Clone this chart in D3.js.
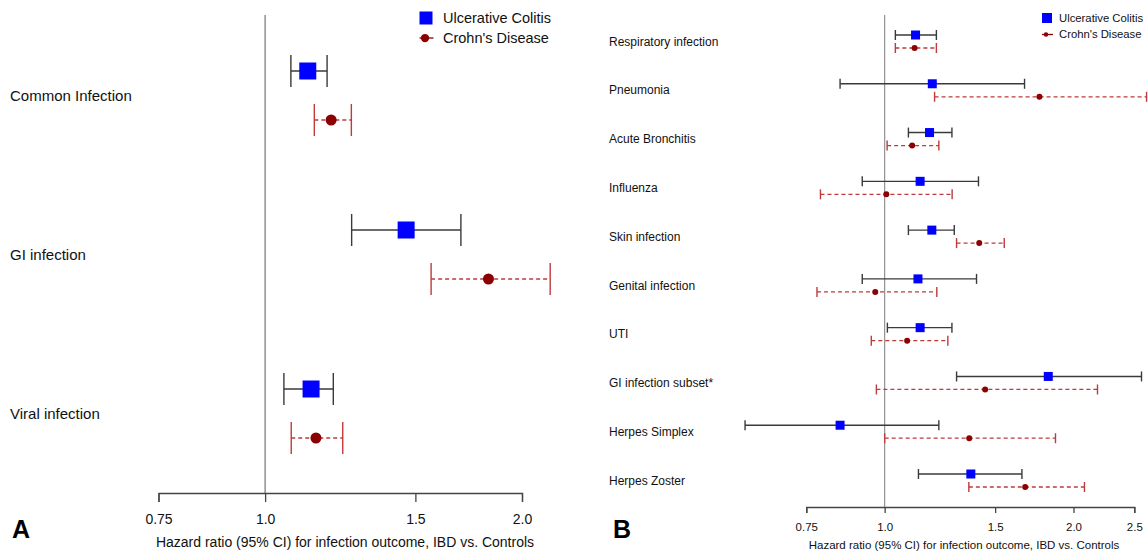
<!DOCTYPE html>
<html>
<head>
<meta charset="utf-8">
<script src="https://cdn.jsdelivr.net/npm/d3@7"></script>
<style>
  body { margin: 0; background: #fff; }
  svg { font-family: "Liberation Sans", Arial, sans-serif; }
  .axis path, .axis line { stroke: #444; stroke-width: 1.3; }
</style>
</head>
<body>
<svg id="chart" width="1148" height="553"></svg>
<script>
// Panel A data
var catsA = ["Common Infection", "GI infection", "Viral infection"];
var ucA = [1.122, 1.463, 1.132];
var ucLoA = [1.072, 1.263, 1.052];
var ucHiA = [1.182, 1.696, 1.202];
var cdA = [1.195, 1.827, 1.147];
var cdLoA = [1.142, 1.565, 1.073];
var cdHiA = [1.262, 2.158, 1.233];

// Panel B data
var catsB = ["Respiratory infection", "Pneumonia", "Acute Bronchitis", "Influenza", "Skin infection",
    "Genital infection", "UTI", "GI infection subset*", "Herpes Simplex", "Herpes Zoster"];
var ucB = [1.120, 1.191, 1.179, 1.139, 1.189, 1.130, 1.139, 1.823, 0.849, 1.372];
var ucLoB = [1.040, 0.849, 1.091, 0.921, 1.091, 0.921, 1.010, 1.302, 0.599, 1.132];
var ucHiB = [1.209, 1.671, 1.280, 1.411, 1.291, 1.401, 1.280, 2.567, 1.220, 1.655];
var cdB = [1.116, 1.765, 1.106, 1.006, 1.415, 0.966, 1.086, 1.446, 1.364, 1.675];
var cdLoB = [1.040, 1.201, 1.009, 0.790, 1.302, 0.780, 0.952, 0.970, 1.000, 1.362];
var cdHiB = [1.209, 2.615, 1.220, 1.281, 1.551, 1.211, 1.261, 2.184, 1.872, 2.082];

var ticksA = [0.75, 1.0, 1.5, 2.0];
var ticksB = [0.75, 1.0, 1.5, 2.0, 2.5];
var tickLabel = function(d) { return d === 0.75 ? "0.75" : d.toFixed(1); };

var svg = d3.select("#chart");

var lineCol = "#3a3a3a";
var cdCol = "#8b0000";
var cdBarCol = "#bf3a3a";

function drawPanel(opt) {
    var g = svg.append("g");

    var x = d3.scaleLog().domain(opt.domain).range(opt.xRange);
    var y = d3.scalePoint().domain(opt.cats).range(opt.yRange);

    // reference line at HR = 1
    g.append("line")
        .attr("x1", x(1)).attr("x2", x(1))
        .attr("y1", 15).attr("y2", opt.axisY)
        .attr("stroke", "#888").attr("stroke-width", opt.refW);

    // axis
    var axis = d3.axisBottom(x)
        .tickValues(opt.ticks)
        .tickFormat(tickLabel)
        .tickSizeOuter(0)
        .tickSize(opt.tickSize)
        .tickPadding(opt.tickPad);
    var ax = g.append("g")
        .attr("class", "axis")
        .attr("transform", "translate(0," + opt.axisY + ")")
        .call(axis);
    ax.selectAll("text").attr("fill", "#111").style("font-size", opt.tickFont + "px");

    g.append("text")
        .attr("x", opt.titleX)
        .attr("y", opt.titleY)
        .attr("text-anchor", "middle")
        .style("font-size", opt.titleFont + "px")
        .attr("fill", "#111")
        .text("Hazard ratio (95% CI) for infection outcome, IBD vs. Controls");

    // panel letter
    g.append("text")
        .attr("x", opt.letterX)
        .attr("y", 538)
        .style("font-size", "25px")
        .style("font-weight", "bold")
        .text(opt.letter);

    // category labels
    g.selectAll(".cat")
        .data(opt.cats)
        .enter()
        .append("text")
        .attr("x", opt.labelX)
        .attr("y", function(d) { return y(d); })
        .attr("dy", "0.35em")
        .style("font-size", opt.labelFont + "px")
        .attr("fill", "#111")
        .text(function(d) { return d; });

    var rows = opt.cats.map(function(c, i) {
        return { cat: c, uc: opt.uc[i], ucLo: opt.ucLo[i], ucHi: opt.ucHi[i],
                 cd: opt.cd[i], cdLo: opt.cdLo[i], cdHi: opt.cdHi[i] };
    });

    var cap = opt.cap;

    rows.forEach(function(d) {
        var yu = y(d.cat) - opt.off;
        var yc = y(d.cat) + opt.off;

        // UC: solid bar
        g.append("line")
            .attr("x1", x(d.ucLo)).attr("x2", x(d.ucHi))
            .attr("y1", yu).attr("y2", yu)
            .attr("stroke", lineCol).attr("stroke-width", 1.4);
        [d.ucLo, d.ucHi].forEach(function(v) {
            g.append("line")
                .attr("x1", x(v)).attr("x2", x(v))
                .attr("y1", yu - cap).attr("y2", yu + cap)
                .attr("stroke", lineCol).attr("stroke-width", 1.4);
        });
        g.append("rect")
            .attr("x", x(d.uc) - opt.sq / 2)
            .attr("y", yu - opt.sq / 2)
            .attr("width", opt.sq).attr("height", opt.sq)
            .attr("fill", "#0000ff");

        // CD: dashed bar
        g.append("line")
            .attr("x1", x(d.cdLo)).attr("x2", x(d.cdHi))
            .attr("y1", yc).attr("y2", yc)
            .attr("stroke", cdBarCol).attr("stroke-width", 1.3)
            .attr("stroke-dasharray", "4,3");
        [d.cdLo, d.cdHi].forEach(function(v) {
            g.append("line")
                .attr("x1", x(v)).attr("x2", x(v))
                .attr("y1", yc - cap).attr("y2", yc + cap)
                .attr("stroke", cdBarCol).attr("stroke-width", 1.4);
        });
        g.append("circle")
            .attr("cx", x(d.cd)).attr("cy", yc)
            .attr("r", opt.r)
            .attr("fill", cdCol);
    });

    // legend
    var lg = g.append("g").attr("transform", "translate(" + opt.legX + "," + opt.legY + ")");
    lg.append("rect")
        .attr("x", -opt.legSq / 2).attr("y", -opt.legSq / 2)
        .attr("width", opt.legSq).attr("height", opt.legSq)
        .attr("fill", "#0000ff");
    lg.append("text")
        .attr("x", opt.legTx).attr("y", 0).attr("dy", "0.35em")
        .style("font-size", opt.legFont + "px").attr("fill", "#111")
        .text("Ulcerative Colitis");
    lg.append("line")
        .attr("x1", -opt.legSq / 2).attr("x2", opt.legSq / 2 + 1)
        .attr("y1", opt.legGap).attr("y2", opt.legGap)
        .attr("stroke", cdCol).attr("stroke-width", 1.3);
    lg.append("circle")
        .attr("cx", -1).attr("cy", opt.legGap).attr("r", opt.r * 0.75)
        .attr("fill", cdCol);
    lg.append("text")
        .attr("x", opt.legTx).attr("y", opt.legGap).attr("dy", "0.35em")
        .style("font-size", opt.legFont + "px").attr("fill", "#111")
        .text("Crohn's Disease");
}

drawPanel({
    cats: catsA, uc: ucA, ucLo: ucLoA, ucHi: ucHiA, cd: cdA, cdLo: cdLoA, cdHi: cdHiA,
    domain: [0.75, 2.0], xRange: [158.5, 522], yRange: [95.5, 413.5], off: 24.5,
    ticks: ticksA, axisY: 493, tickSize: 9, tickPad: 12, tickFont: 14,
    titleX: 345, titleY: 547, titleFont: 14,
    letter: "A", letterX: 12, labelX: 10, labelFont: 15,
    cap: 16, sq: 17, r: 5.5, refW: 1.4,
    legX: 426, legY: 18, legSq: 13, legTx: 17, legGap: 20, legFont: 14.5
});

drawPanel({
    cats: catsB, uc: ucB, ucLo: ucLoB, ucHi: ucHiB, cd: cdB, cdLo: cdLoB, cdHi: cdHiB,
    domain: [0.75, 2.5], xRange: [806.3, 1134.3], yRange: [41.5, 480.5], off: 6.5,
    ticks: ticksB, axisY: 507, tickSize: 6, tickPad: 10, tickFont: 11.5,
    titleX: 964, titleY: 549, titleFont: 11.5,
    letter: "B", letterX: 613, labelX: 609, labelFont: 12,
    cap: 5, sq: 9, r: 3, refW: 1.1,
    legX: 1047, legY: 18, legSq: 10, legTx: 12, legGap: 16.5, legFont: 11.3
});
</script>
</body>
</html>
